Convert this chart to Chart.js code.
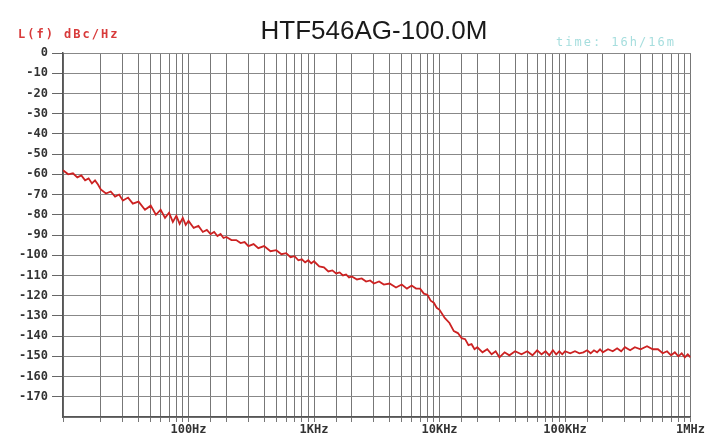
<!DOCTYPE html>
<html>
<head>
<meta charset="utf-8">
<script src="https://cdn.jsdelivr.net/npm/chart.js@4"></script>
<style>
  body { margin: 0; background: #fff; }
</style>
</head>
<body>
<canvas id="chart" width="706" height="439"></canvas>
<script>
// offset frequency, Hz
const freqs = [
  10, 11, 12, 13, 14, 15, 16, 17, 18, 19, 20, 22, 24, 26, 28, 30, 33, 36, 40, 45, 50, 55, 60, 65, 70, 75, 80, 85, 90, 95,
  100, 110, 120, 130, 140, 150, 160, 170, 180, 190, 200, 220, 240, 260, 280, 300, 330, 360, 400, 450, 500, 550, 600, 650, 700, 750, 800, 850, 900, 950,
  1000, 1100, 1200, 1300, 1400, 1500, 1600, 1700, 1800, 1900, 2000, 2200, 2400, 2600, 2800, 3000, 3300, 3600, 4000, 4500, 5000, 5500, 6000, 6500, 7000, 7500, 8000, 8500, 9000, 9500,
  10000, 11000, 12000, 13000, 14000, 15000, 16000, 17000, 18000, 19000, 20000, 22000, 24000, 26000, 28000, 30000, 33000, 36000, 40000, 45000, 50000, 55000, 60000, 65000, 70000, 75000, 80000, 85000, 90000, 95000,
  100000, 110000, 120000, 130000, 140000, 150000, 160000, 170000, 180000, 190000, 200000, 220000, 240000, 260000, 280000, 300000, 330000, 360000, 400000, 450000, 500000, 550000, 600000, 650000, 700000, 750000, 800000, 850000, 900000, 950000, 1000000
];

// L(f), dBc/Hz
const phaseNoise = [
  -58, -60, -59.5, -61.5, -60.5, -63, -62, -64.5, -63, -65, -67.5, -69.5, -68.5, -71, -70, -73, -71.5, -74.5, -73.5, -77.5, -75.5, -80, -77.5, -81.5, -79, -83.5, -80.5, -84.5, -81.5, -85,
  -83, -86.5, -85.5, -88.5, -87.5, -89.5, -88.5, -90.5, -89.5, -91.5, -91, -92.5, -92.5, -94, -93.5, -95.5, -94.5, -96.5, -95.5, -98, -97.5, -99.5, -99, -101, -100.5, -102.5, -102, -103.5, -102.5, -104,
  -103, -105.5, -106, -108, -107.5, -109, -108.5, -110, -109.5, -111, -110.5, -112, -111.5, -113, -112.5, -114, -113, -114.5, -114, -116, -114.5, -116.5, -115, -116.5, -116.5, -119, -119.5, -122.5, -123.5, -126,
  -127, -131, -133.5, -137.5, -138.5, -141, -141.5, -144.5, -144, -146.5, -145.5, -148, -146.5, -149, -147.5, -150.5, -148, -149.5, -147.5, -149, -147.5, -149.5, -147, -149, -147.5, -149.5, -147, -149, -147.5, -149,
  -147.5, -148.5, -147.5, -148.5, -148, -147, -148.5, -147, -148, -146.5, -148, -146.5, -147.5, -146, -147.5, -145.5, -147, -145.5, -146.5, -145, -146.5, -146.5, -148.5, -147.5, -149.5, -148, -150, -148.5, -150.5, -149, -150.5
];

const xTickValues = [100, 1000, 10000, 100000, 1000000];
const xTickLabels = ['100Hz', '1KHz', '10KHz', '100KHz', '1MHz'];

const chartTitle = 'HTF546AG-100.0M';
const yAxisTitle = 'L(f) dBc/Hz';
const timeNote = 'time: 16h/16m';

let points = freqs.map((f, i) => ({ x: f, y: phaseNoise[i] }));

const tickFont = { family: '"DejaVu Sans Mono", monospace', size: 12, weight: 'bold' };

// texts around the plot
const textPlugin = {
  id: 'texts',
  afterDraw(chart) {
    const c = chart.ctx;
    c.save();
    c.textBaseline = 'alphabetic';

    c.font = '26px "Liberation Sans", Arial, sans-serif';
    c.fillStyle = '#1a1a1a';
    c.textAlign = 'center';
    c.fillText(chartTitle, 374, 39);

    c.textAlign = 'left';
    c.font = 'bold 12px "DejaVu Sans Mono", monospace';
    c.letterSpacing = '2px';
    c.fillStyle = '#d83a3a';
    c.fillText(yAxisTitle, 18, 38);

    c.font = '12px "DejaVu Sans Mono", monospace';
    c.fillStyle = '#a6dede';
    c.fillText(timeNote, 556, 46);
    c.restore();
  }
};

let ctx = document.getElementById('chart').getContext('2d');

let myChart = new Chart(ctx, {
  type: 'line',
  data: {
    datasets: [{
      data: points,
      borderColor: '#cc2222',
      borderWidth: 1.8,
      pointRadius: 0,
      tension: 0,
      fill: false
    }]
  },
  options: {
    responsive: false,
    animation: false,
    layout: { padding: { top: 53, right: 15, left: 0, bottom: 0 } },
    plugins: {
      legend: { display: false },
      tooltip: { enabled: false }
    },
    scales: {
      x: {
        type: 'logarithmic',
        min: 10,
        max: 1000000,
        afterFit: (scale) => { scale.height = 22; },
        border: { display: true, color: '#555', width: 1.5 },
        grid: { color: '#777', lineWidth: 1, drawTicks: true, tickLength: 5 },
        ticks: {
          autoSkip: false,
          maxRotation: 0,
          padding: 1,
          color: '#333',
          font: tickFont,
          callback: (value) => {
            let i = xTickValues.indexOf(Math.round(value));
            return i >= 0 ? xTickLabels[i] : '';
          }
        }
      },
      y: {
        min: -180,
        max: 0,
        afterFit: (scale) => { scale.width = 63; },
        border: { display: true, color: '#555', width: 1.5 },
        grid: {
          color: '#888',
          lineWidth: 1,
          drawTicks: true,
          tickLength: 11,
          tickColor: (c) => c.tick && c.tick.value === -180 ? 'rgba(0,0,0,0)' : '#666'
        },
        ticks: {
          stepSize: 10,
          padding: 4,
          color: '#333',
          font: tickFont,
          callback: (value) => value > -180 ? value : ''
        }
      }
    }
  },
  plugins: [textPlugin]
});
</script>
</body>
</html>
